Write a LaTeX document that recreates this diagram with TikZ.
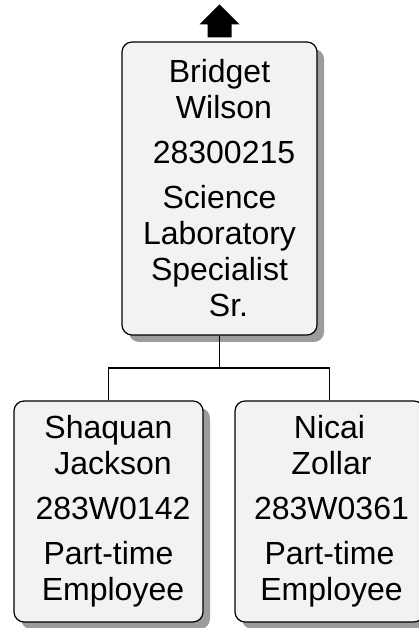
\documentclass[tikz,border=0pt]{standalone}
\usepackage{fontspec}
\setmainfont{Liberation Sans}
\usepackage{tikz}
\usetikzlibrary{positioning,shadows}

\definecolor{boxfill}{HTML}{F2F2F2}
\definecolor{shadowgray}{HTML}{9C9C9C}
\newcommand{\lead}[1][9pt]{\hspace*{#1}}

\begin{document}
\begin{tikzpicture}[x=1pt,y=1pt,
    every node/.style={font=\fontsize{32}{36}\selectfont},
    person/.style={draw=black, line width=1.2pt, fill=boxfill, rounded corners=10pt,
      align=center, inner sep=0pt, minimum width=189pt, minimum height=221pt,
      drop shadow={shadow xshift=7pt, shadow yshift=-7pt, fill=shadowgray, opacity=1}},
    link/.style={draw=black, line width=1.2pt}]
      \useasboundingbox (0,0) rectangle (418,628);

      \node[person, minimum width=195pt, minimum height=293pt] (boss) at (219.5,439.5)
        {Bridget\\ \lead Wilson\\[9pt] \lead 28300215\\[9pt] Science\\Laboratory\\Specialist\\ \lead[18pt]Sr.};
      \node[person] (shaquan) at (108.5,116.5)
        {Shaquan\\ \lead Jackson\\[9pt] \lead 283W0142\\[9pt] Part-time\\ \lead Employee};
      \node[person] (nicai) at (329.5,116.5)
        {Nicai\\ \lead[4pt]Zollar\\[9pt] \lead[4pt]283W0361\\[9pt] Part-time\\ \lead[4pt]Employee};

      % up arrow to the next level
      \fill[black] ([yshift=4pt]boss.north) ++(-12,0) -- ++(0,13) -- ++(-8,0)
        -- ++(20,20) -- ++(20,-20) -- ++(-8,0) -- ++(0,-13) -- cycle;

      \coordinate (bus) at (boss.south |- 0,260);
      \draw[link] (boss.south) -- (bus);
      \draw[link] (shaquan.north) |- (bus) -| (nicai.north);
    \end{tikzpicture}
\end{document}
